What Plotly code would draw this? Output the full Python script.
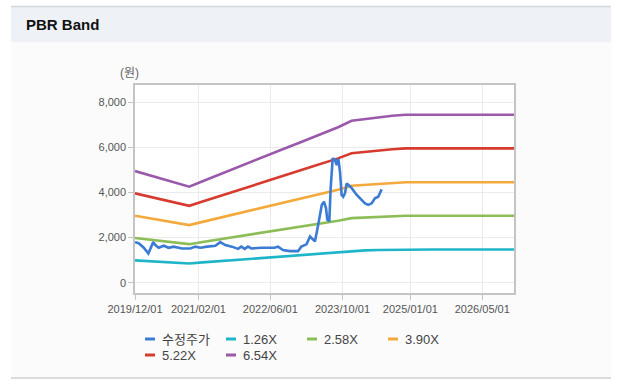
import plotly.graph_objects as go

# ---------------- data ----------------
band_dates = ["2019-12-01", "2020-03-01", "2020-06-01", "2020-09-01", "2020-12-01",
              "2021-03-01", "2021-06-01", "2021-09-01", "2021-12-01", "2022-03-01",
              "2022-06-01", "2022-09-01", "2022-12-01", "2023-03-01", "2023-06-01",
              "2023-09-01", "2023-12-01", "2024-03-01", "2024-06-01", "2024-09-01",
              "2024-12-01", "2025-03-01", "2025-06-01", "2025-09-01", "2025-12-01",
              "2026-03-01", "2026-06-01", "2026-09-01", "2026-12-01"]

band_126 = [989, 956, 922, 889, 855, 902, 947, 994, 1040, 1086, 1132, 1179, 1224, 1271, 1318,
            1363, 1418, 1434, 1449, 1461, 1470, 1470, 1470, 1470, 1470, 1470, 1470, 1470, 1470]
band_258 = [1983, 1916, 1846, 1779, 1710, 1805, 1898, 1993, 2089, 2182, 2277, 2373, 2466, 2561, 2656,
            2749, 2863, 2894, 2925, 2951, 2969, 2969, 2969, 2969, 2969, 2969, 2969, 2969, 2969]
band_390 = [2967, 2866, 2761, 2659, 2554, 2698, 2839, 2983, 3127, 3268, 3412, 3556, 3697, 3841, 3985,
            4126, 4297, 4344, 4391, 4430, 4457, 4457, 4457, 4457, 4457, 4457, 4457, 4457, 4457]
band_522 = [3962, 3826, 3685, 3549, 3408, 3601, 3789, 3982, 4176, 4363, 4557, 4750, 4938, 5131, 5324,
            5512, 5742, 5804, 5867, 5919, 5956, 5956, 5956, 5956, 5956, 5956, 5956, 5956, 5956]
band_654 = [4951, 4781, 4604, 4434, 4258, 4500, 4735, 4977, 5219, 5454, 5696, 5938, 6174, 6416, 6658,
            6893, 7181, 7259, 7338, 7403, 7449, 7449, 7449, 7449, 7449, 7449, 7449, 7449, 7449]

price_dates = ["2019-12-01", "2019-12-26", "2020-01-29", "2020-02-29", "2020-04-02", "2020-04-16",
               "2020-05-09", "2020-06-12", "2020-07-15", "2020-08-18", "2020-10-13", "2020-12-08",
               "2021-01-11", "2021-02-14", "2021-03-31", "2021-05-26", "2021-06-28", "2021-08-01",
               "2021-09-15", "2021-10-26", "2021-11-17", "2021-12-10", "2022-01-01", "2022-01-24",
               "2022-04-01", "2022-06-30", "2022-07-23", "2022-08-25", "2022-10-10", "2022-12-05",
               "2022-12-27", "2023-01-31", "2023-02-24", "2023-03-14", "2023-03-29", "2023-04-21",
               "2023-05-14", "2023-05-29", "2023-06-12", "2023-06-20", "2023-07-04", "2023-07-13",
               "2023-07-27", "2023-08-11", "2023-08-23", "2023-09-03", "2023-09-14", "2023-09-25",
               "2023-10-06", "2023-10-18", "2023-10-29", "2023-11-16", "2023-12-02", "2024-01-05",
               "2024-02-07", "2024-03-01", "2024-03-23", "2024-04-15", "2024-05-07", "2024-05-29",
               "2024-06-21"]
price = [1800, 1750, 1550, 1300, 1800, 1670,
         1550, 1640, 1550, 1600, 1520, 1520,
         1600, 1550, 1600, 1640, 1800, 1670,
         1600, 1500, 1600, 1500, 1600, 1520,
         1550, 1550, 1600, 1450, 1400, 1400,
         1600, 1700, 2050, 1950, 1830, 2600,
         3450, 3590, 3300, 2800, 2720, 4190,
         5520, 5440, 5220, 5500, 4920, 3890,
         3810, 3970, 4400, 4300, 4190, 3890,
         3670, 3520, 3450, 3520, 3740, 3810,
         4140]

series_names = ["수정주가", "1.26X", "2.58X", "3.90X", "5.22X", "6.54X"]
series_colors = ["#3b7bd4", "#1fb5c9", "#8cbd57", "#f3a93c", "#d73a2e", "#9b59a9"]

x_tickvals = ["2019-12-01", "2021-02-01", "2022-06-01", "2023-10-01", "2025-01-01", "2026-05-01"]
x_ticktext = ["2019/12/01", "2021/02/01", "2022/06/01", "2023/10/01", "2025/01/01", "2026/05/01"]
y_tickvals = [0, 2000, 4000, 6000, 8000]

# ---------------- figure ----------------
W, H = 621, 385
L, R, T, B = 135, 514, 85, 293   # plot area in pixels


def px(xp):
    return (xp - L) / (R - L)


def py(yp):
    return (B - yp) / (B - T)


font_family = "Liberation Sans, Arial, Noto Sans CJK KR, sans-serif"

fig = go.Figure()
series_x = [price_dates, band_dates, band_dates, band_dates, band_dates, band_dates]
series_y = [price, band_126, band_258, band_390, band_522, band_654]
order = [1, 2, 3, 4, 5, 0]
for i in order:
    fig.add_trace(go.Scatter(
        x=series_x[i], y=series_y[i], name=series_names[i], mode="lines",
        line=dict(color=series_colors[i], width=2.6, shape="linear"),
        showlegend=False, hoverinfo="skip"))

shapes = [
    # panel background
    dict(type="rect", xref="paper", yref="paper", x0=px(11), x1=px(611), y0=py(378), y1=py(6),
         fillcolor="#fbfbfb", line=dict(width=0), layer="below"),
    # header bar
    dict(type="rect", xref="paper", yref="paper", x0=px(11), x1=px(611), y0=py(42), y1=py(6.5),
         fillcolor="#eef2f7", line=dict(width=0), layer="below"),
    # top border
    dict(type="line", xref="paper", yref="paper", x0=px(11), x1=px(611), y0=py(6.5), y1=py(6.5),
         line=dict(color="#d3d6da", width=1.5), layer="below"),
    # bottom border
    dict(type="line", xref="paper", yref="paper", x0=px(11), x1=px(611), y0=py(378), y1=py(378),
         line=dict(color="#d0d0d0", width=1.5), layer="below"),
    # plot area background
    dict(type="rect", xref="paper", yref="paper", x0=0, x1=1, y0=0, y1=1,
         fillcolor="#ffffff", line=dict(width=0), layer="below"),
]

annotations = [
    dict(text="<b>PBR Band</b>", xref="paper", yref="paper", x=px(24), y=py(25),
         xanchor="left", yanchor="middle", showarrow=False,
         font=dict(size=15, color="#111111", family=font_family)),
    dict(text="(원)", xref="paper", yref="paper", x=px(129), y=py(73),
         xanchor="center", yanchor="middle", showarrow=False,
         font=dict(size=12, color="#666666", family=font_family)),
]

# custom legend (4 columns)
for k, i in enumerate(range(len(series_names))):
    r, c = divmod(k, 4)
    xs = 145 + 81 * c
    ys = 339 + 16 * r
    shapes.append(dict(type="line", xref="paper", yref="paper",
                       x0=px(xs), x1=px(xs + 10), y0=py(ys), y1=py(ys),
                       line=dict(color=series_colors[i], width=3)))
    annotations.append(dict(text=series_names[i], xref="paper", yref="paper",
                            x=px(xs + 15), y=py(ys), xanchor="left", yanchor="middle",
                            showarrow=False,
                            font=dict(size=13, color="#444444", family=font_family)))

fig.update_layout(
    width=W, height=H,
    margin=dict(l=L, r=W - R, t=T, b=H - B, pad=0),
    paper_bgcolor="#ffffff",
    plot_bgcolor="rgba(0,0,0,0)",
    showlegend=False,
    shapes=shapes,
    annotations=annotations,
    font=dict(family=font_family, size=11, color="#555555"),
    xaxis=dict(
        type="date", range=["2019-12-01", "2026-12-01"],
        tickvals=x_tickvals, ticktext=x_ticktext,
        showgrid=True, gridcolor="#ebebeb", gridwidth=1,
        showline=True, linecolor="#c4c4c4", linewidth=1.5, mirror=True,
        ticks="outside", ticklen=5, tickcolor="#c4c4c4",
        tickfont=dict(size=11, color="#555555"),
        zeroline=False, fixedrange=True,
    ),
    yaxis=dict(
        range=[-455, 8765],
        tickvals=y_tickvals, tickformat=",",
        showgrid=True, gridcolor="#ebebeb", gridwidth=1,
        showline=True, linecolor="#c4c4c4", linewidth=1.5, mirror=True,
        ticks="outside", ticklen=5, tickcolor="#c4c4c4",
        tickfont=dict(size=11, color="#555555"),
        zeroline=False, fixedrange=True,
    ),
)

fig.write_html("out.html", config={"displayModeBar": False},
               post_script="document.body.style.margin='0';document.body.style.overflow='hidden';")
